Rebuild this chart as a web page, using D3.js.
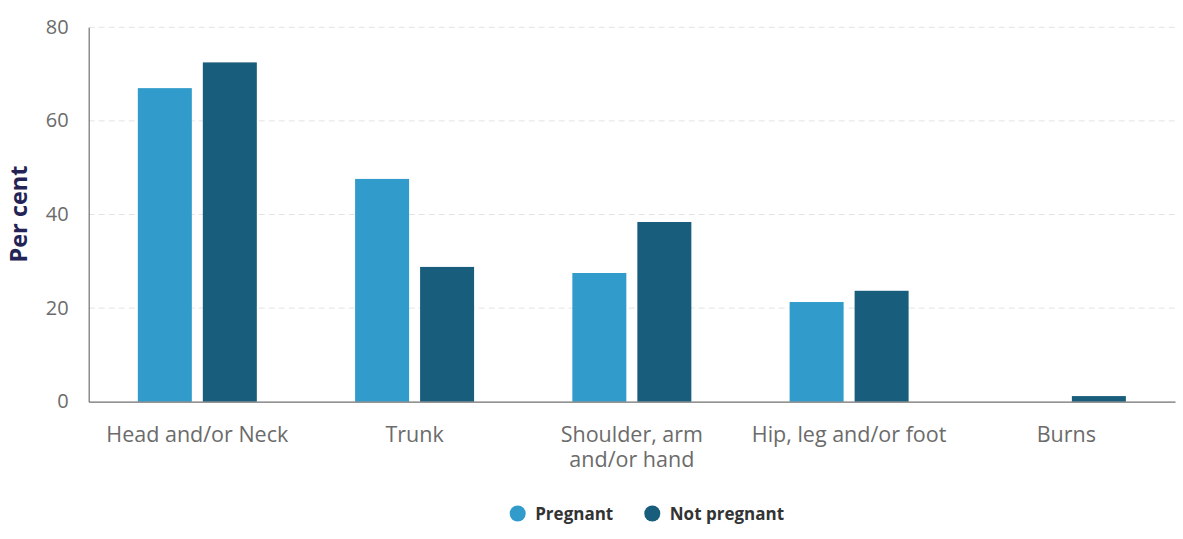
<!DOCTYPE html>
<html>
<head>
<meta charset="utf-8">
<script src="https://cdn.jsdelivr.net/npm/d3@7"></script>
<style>
  body { margin: 0; background: #fff; font-family: "Open Sans", sans-serif; }
</style>
</head>
<body>
<svg id="chart" width="1183" height="539"></svg>
<script>
// data
const categories = [["Head and/or Neck"], ["Trunk"], ["Shoulder, arm", "and/or hand"], ["Hip, leg and/or foot"], ["Burns"]];
const seriesNames = ["Pregnant", "Not pregnant"];
const pregnant = [67.0, 47.6, 27.5, 21.3, 0];
const notPregnant = [72.5, 28.8, 38.4, 23.7, 1.2];
const yTicks = [0, 20, 40, 60, 80];
const colors = ["#319ccb", "#185d7b"];

const svg = d3.select('#chart');
const margin = { top: 27.3, right: 8, bottom: 137.3, left: 88.7 };
const width = 1183 - margin.left - margin.right;
const height = 539 - margin.top - margin.bottom;

const g = svg.append('g')
  .attr('transform', `translate(${margin.left}, ${margin.top})`);

const x = d3.scaleBand()
  .domain(categories.map((d, i) => i))
  .range([0, width]);

const y = d3.scaleLinear()
  .domain([0, 80])
  .range([height, 0]);

// Gridlines
g.selectAll('.grid')
  .data(yTicks.filter(t => t > 0))
  .enter()
  .append('line')
  .attr('x1', 0)
  .attr('x2', width)
  .attr('y1', d => y(d))
  .attr('y2', d => y(d))
  .attr('stroke', '#e3e3e3')
  .attr('stroke-dasharray', '6,4');

// Bars
const barW = 54, gap = 11;
const series = [pregnant, notPregnant];
series.forEach((vals, s) => {
  g.selectAll('.bar' + s)
    .data(vals)
    .enter()
    .append('rect')
    .attr('fill', colors[s])
    .attr('x', (d, i) => x(i) + x.bandwidth() / 2 + (s === 0 ? -gap / 2 - barW : gap / 2))
    .attr('y', d => y(d))
    .attr('width', barW)
    .attr('height', d => height - y(d));
});

// Y axis
const yAxis = g.append('g')
  .call(d3.axisLeft(y).tickValues(yTicks).tickSize(0).tickPadding(20));
yAxis.select('.domain').attr('stroke', '#707070').attr('stroke-width', 1.2);
yAxis.selectAll('text')
  .style('font-family', '"Open Sans", sans-serif')
  .style('font-size', '20px')
  .attr('dy', '0.3em')
  .attr('fill', '#6b6b6b');

// X axis
const xAxis = g.append('g')
  .attr('transform', `translate(0, ${height})`)
  .call(d3.axisBottom(x).tickSize(0).tickFormat(''));
xAxis.select('.domain').attr('stroke', '#707070').attr('stroke-width', 1.2);

categories.forEach((lines, i) => {
  const t = g.append('text')
    .attr('x', x(i) + x.bandwidth() / 2)
    .attr('y', height + 40)
    .attr('text-anchor', 'middle')
    .style('font-size', '21.5px')
    .attr('fill', '#6b6b6b');
  lines.forEach((l, j) => {
    t.append('tspan')
      .attr('x', x(i) + x.bandwidth() / 2)
      .attr('dy', j === 0 ? 0 : 25)
      .text(l);
  });
});

// Y title
svg.append('text')
  .attr('transform', 'translate(27, 214) rotate(-90)')
  .attr('text-anchor', 'middle')
  .style('font-size', '23.5px')
  .style('font-weight', 'bold')
  .attr('fill', '#232356')
  .text('Per cent');

// Legend
const legend = svg.append('g').attr('transform', 'translate(517.7, 513.5)');
const legendX = [0, 134.6];
seriesNames.forEach((name, i) => {
  legend.append('circle')
    .attr('cx', legendX[i])
    .attr('cy', 0)
    .attr('r', 8)
    .attr('fill', colors[i]);
  legend.append('text')
    .attr('x', legendX[i] + 17.5)
    .attr('y', 6.5)
    .style('font-size', '17px')
    .style('font-weight', 'bold')
    .attr('fill', '#333333')
    .text(name);
});
</script>
</body>
</html>
